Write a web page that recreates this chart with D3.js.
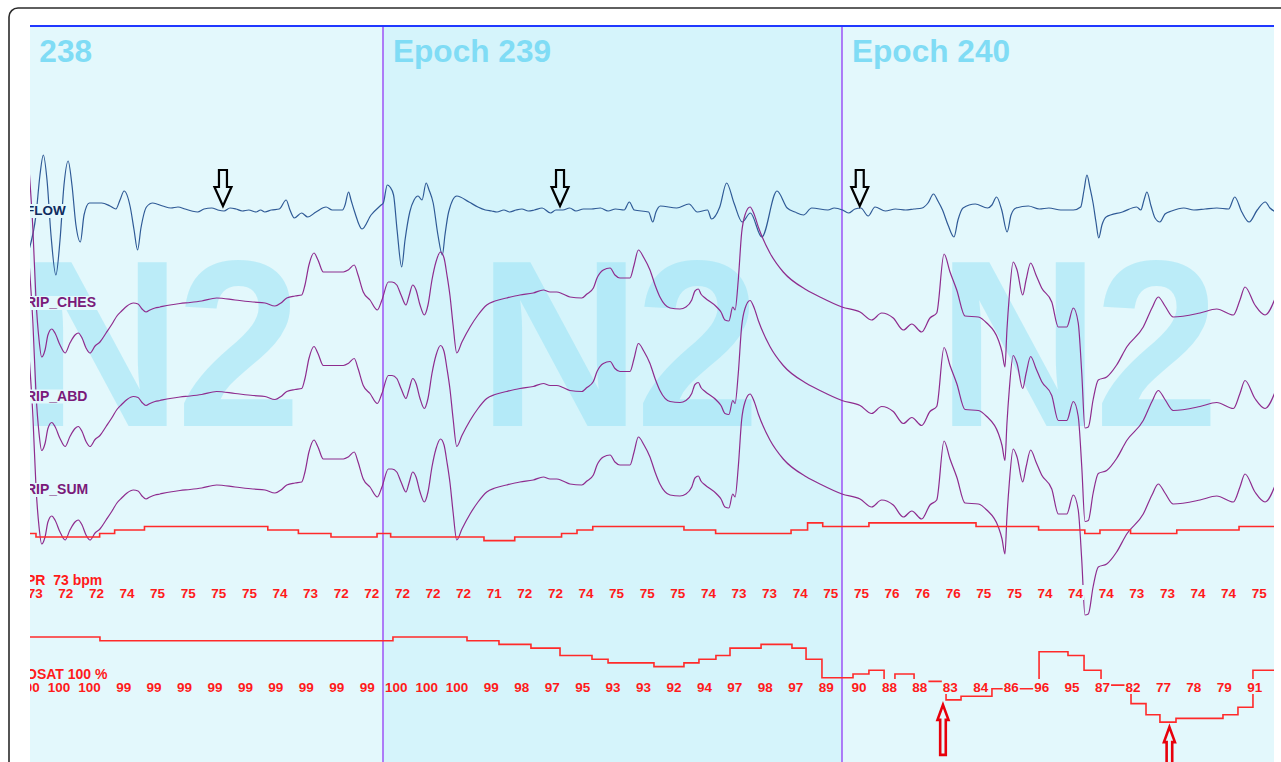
<!DOCTYPE html>
<html>
<head>
<meta charset="utf-8">
<script src="https://cdn.jsdelivr.net/npm/d3@7"></script>
<style>
  body { margin: 0; background: #fff; }
  svg { display: block; }
</style>
</head>
<body>
<svg id="chart" width="1281" height="762"></svg>
<script>
// time is in seconds from the start of epoch 238 (30 s epochs)
var epochs = [238, 239, 240];
var stages = ["N2", "N2", "N2"];
var currentEpoch = 239;

// airflow, arbitrary units (0 = baseline)
var flowPts = [
  [6.86,-41],[7.32,-6],[7.58,34],[7.80,54],[8.04,29],[8.30,-26],[8.62,-66],[8.89,-31],[9.15,24],[9.42,48],
  [9.67,24],[9.93,-16],[10.22,-33],[10.46,-6],[10.81,6],[11.61,6],[12.16,3],[12.54,0],[12.81,9],[13.08,18],
  [13.48,2],[13.73,-21],[13.96,-41],[14.18,-19],[14.54,2],[14.95,6],[15.60,3],[16.14,1],[16.60,2],[17.06,0],
  [17.50,-2],[17.88,-3],[18.30,0],[18.81,1],[19.20,-1],[19.61,-2],[20.00,1],[20.39,0],[20.80,-2],[21.22,-1],
  [21.70,-3],[22.00,-1],[22.28,-3],[22.70,-1],[23.22,0],[23.67,9],[23.92,-1],[24.20,-9],
  [24.68,-4],[25.08,-8],[25.62,-3],[26.28,2],[26.68,-1],[27.35,-1],[27.52,4],[27.75,17],[27.91,9],[28.15,-3],
  [28.63,-20],[29.22,-6],[29.88,4],[30.02,6],[30.28,24],[30.46,22],[30.69,14],[30.92,-21],[31.22,-58],[31.44,-31],
  [31.75,-3],[32.03,9],[32.29,13],[32.55,9],[32.82,26],[33.01,19],[33.28,6],[33.59,-26],[33.88,-46],[34.05,-26],
  [34.29,-3],[34.82,13],[35.62,7],[36.20,2],[36.69,-1],[37.10,-2],[37.45,-3],[37.90,-1],[38.29,-3],[38.70,-1],
  [39.08,0],[39.50,-2],[39.89,-1],[40.40,1],[40.95,-4],[41.30,-1],[41.76,-1],[42.20,1],
  [42.61,-2],[43.10,0],[43.62,0],[44.20,1],[44.71,-2],[45.20,0],[45.76,-1],[46.10,7],[46.42,-1],[47.36,-3],[47.63,-13],[47.84,-3],[48.13,3],
  [49.20,1],[50.00,5],[50.54,-3],[51.21,-1],[51.47,-10],[52.01,2],[52.46,26],[52.94,6],[53.48,-13],[54.01,-4],
  [54.76,-28],[55.75,18],[56.42,1],[56.93,-3],[57.48,-6],[58.02,1],[59.08,-1],[59.49,1],[60.03,-1],[60.42,-4],
  [60.85,0],[61.23,1],[61.71,-7],[62.16,2],[62.83,-2],[63.50,0],[64.16,-1],[64.70,0],[65.24,1],[65.62,6],[65.98,15],[66.27,8],
  [66.57,-1],[66.93,-16],[67.32,-28],[67.58,-11],[67.91,1],[68.71,5],[69.51,1],[69.80,4],[70.10,12],[70.44,-1],
  [70.79,-23],[71.05,-6],[71.38,1],[72.18,3],[72.90,0],[73.52,1],[74.30,-1],[75.12,-1],[75.60,2],[75.82,19],[76.01,34],[76.21,21],
  [76.41,6],[76.60,-13],[76.78,-29],[76.99,-16],[77.26,-8],[78.33,-3],[79.26,2],[79.53,-1],[79.74,9],[79.93,17],
  [80.20,3],[80.46,-9],[80.78,-13],[81.11,-5],[81.54,-2],[82.34,1],[83.00,-1],[83.73,0],[84.50,1],[85.27,0],[85.67,12],[86.13,-3],
  [86.61,-13],[87.14,-1],[87.67,7],[87.97,1],[88.37,-3]
];

// respiratory inductance bands, the three channels show the same excursion
var ripChannels = ["RIP_CHES", "RIP_ABD", "RIP_SUM"];
var ripPts = [
  [6.86,133],[7.12,71],[7.32,1],[7.52,-39],[7.69,-56],[7.91,-49],[8.10,-34],[8.35,-28],[8.56,-32],[8.89,-44],
  [9.22,-52],[9.54,-42],[9.87,-34],[10.08,-32],[10.33,-37],[10.59,-47],[10.85,-52],[11.18,-45],[11.50,-41],[11.90,-32],
  [12.29,-23],[12.61,-15],[12.92,-10],[13.27,-5],[13.68,-2],[13.99,-3],[14.25,-8],[14.51,-11],[14.77,-9],[15.10,-7],
  [15.42,-6],[16.08,-4],[16.73,-2.5],[17.39,-1.5],[18.15,0],[19.13,3],[20.33,1],[21.50,-1],[22.29,-2],[22.94,-5],
  [23.33,-2],[23.71,3],[24.25,5],[24.69,6],[24.90,16],[25.16,36],[25.49,48],[25.75,41],[26.10,29],[26.42,29],
  [27.41,29],[27.73,31],[28.12,36],[28.37,26],[28.71,9],[29.15,1],[29.63,-9],[29.93,1],[30.35,19],[30.59,19],
  [30.90,16],[31.18,6],[31.50,-4],[31.70,5],[31.94,16],[32.16,11],[32.42,-4],[32.70,-14],[32.94,-4],[33.20,21],
  [33.46,39],[33.76,49],[33.99,43],[34.18,26],[34.38,5],[34.58,-24],[34.82,-52],[35.16,-41],[35.69,-26],[36.21,-14],
  [36.78,-4],[37.32,0],[38.08,3],[38.95,6],[39.82,8],[40.48,11],[40.92,9],[41.35,9],[41.76,7],[42.22,4],
  [42.99,3],[43.33,7],[43.75,13],[43.99,23],[44.40,31],[44.84,33],[45.16,26],[45.49,23],[46.14,23],[46.41,36],
  [46.69,51],[47.06,43],[47.45,31],[47.78,16],[48.10,4],[48.76,-7],[49.41,-8],[49.80,-6],[50.18,1],[50.39,10],
  [50.61,12],[50.78,7],[51.05,3],[51.81,-6],[52.09,-11],[52.35,-19],[52.61,-20],[52.86,-6],[53.01,-9],[53.22,21],
  [53.44,68],[53.66,86],[53.99,94],[54.25,87],[54.53,74],[55.29,48],[56.16,29],[57.69,11],[58.56,4],[60.00,-6],
  [61.18,-11],[61.94,-19],[62.59,-12],[63.35,-17],[64.01,-29],[64.56,-23],[65.21,-31],[65.75,-17],[66.19,-12],[66.67,47],
  [67.06,29],[67.50,11],[68.04,-15],[68.91,-16],[69.46,-22],[70.22,-39],[70.46,-51],[70.65,-66],[70.78,-29],[70.93,4],
  [71.19,39],[71.44,31],[71.81,6],[72.03,21],[72.33,38],[72.68,26],[73.05,13],[73.71,-1],[74.14,-26],[74.69,-26],
  [75.12,-7],[75.44,-22],[75.67,-72],[75.88,-127],[76.10,-126],[76.41,-99],[76.75,-79],[77.30,-76],[77.95,-64],[78.61,-46],
  [79.69,-26],[80.26,-7],[80.67,4],[81.11,-5],[81.65,-16],[83.40,-12],[84.49,-8],[85.58,-14],[86.01,1],[86.34,14],
  [86.99,-4],[87.65,-14],[88.37,5]
];

// pulse rate trace (bpm), [start time, level]
var prSteps = [
  [6.86,73],[7.32,72],[11.48,73],[12.46,74],[14.41,75],[22.47,74],[24.47,73],[26.60,72],[29.61,73],[30.50,72],
  [36.60,71],[38.61,72],[41.67,73],[42.68,74],[43.71,75],[49.67,74],[51.74,73],[56.67,74],[57.75,76],[58.74,75],
  [61.76,76],[68.76,75],[72.85,74],[75.87,73],[76.86,74],[78.86,73],[81.88,74],[85.95,75],[88.40,75]
];

// oxygen saturation trace (%), [start time, level]
var satSteps = [
  [6.86,100],[11.50,99],[30.65,100],[35.49,99],[37.58,98],[39.67,97],[41.57,95],[43.66,94],[44.71,93],[47.71,92],
  [49.67,93],[50.65,94],[51.76,95],[52.68,97],[54.71,98],[56.73,97],[57.65,94],[58.69,89],[60.72,90],[61.76,91],
  [62.75,88],[63.46,90],[64.71,88],[66.80,83],[67.78,84],[69.80,86],[72.88,96],[74.77,95],[75.82,91],[76.93,87],
  [78.89,82],[79.87,79],[80.78,77],[81.83,78],[84.90,79],[85.88,81],[86.86,91],[88.40,91]
];

// 2 s readouts, starting at slot 3 of epoch 238
var firstSlot = 3;
var prNums = [73,72,72,74,75,75,75,75,74,73,72,72,
              72,72,72,71,72,72,74,75,75,75,74,73,73,74,75,
              75,76,76,76,75,75,74,74,74,73,73,74,74,75];
var satNums = [100,100,100,99,99,99,99,99,99,99,99,99,
               100,100,100,99,98,97,95,93,93,92,94,97,98,97,89,
               90,88,88,83,84,86,96,95,87,82,77,78,79,91];

var flowArrows = [19.54, 41.57, 61.16];
var desatArrows = [[66.6, 83], [81.4, 77]];

var W = 1281, H = 762;
var plot = { left: 30, right: 1274, top: 26, bottom: 762 };
var bgLight = "#e3f8fc", bgDark = "#d5f4fb";
var font = "Liberation Sans, Arial, sans-serif";

var x = d3.scaleLinear().domain([30, 60]).range([383, 842]);
var flowY = d3.scaleLinear().domain([-70, 70]).range([279, 139]);
var ripBase = [301, 394.5, 488];
var prY = d3.scaleLinear().domain([71, 76]).range([540.6, 522.9]);
var satY = d3.scaleLinear().domain([77, 100]).range([722.1, 637]);

function bgAt(t) {
  var i = Math.floor(t / 30);
  return epochs[i] == currentEpoch ? bgDark : bgLight;
}

var svg = d3.select("#chart");
svg.append("rect").attr("width", W).attr("height", H).attr("fill", "#fff");
svg.append("rect")
  .attr("x", 9).attr("y", 8).attr("width", 1320).attr("height", 820).attr("rx", 9)
  .attr("fill", "none").attr("stroke", "#2b2b2b").attr("stroke-width", 1.6);

svg.append("clipPath").attr("id", "plotClip").append("rect")
  .attr("x", plot.left).attr("y", plot.top)
  .attr("width", plot.right - plot.left).attr("height", plot.bottom - plot.top);

var g = svg.append("g").attr("clip-path", "url(#plotClip)");

// 1. epoch backgrounds, stage watermark, epoch title
epochs.forEach(function(ep, i) {
  var t0 = i * 30;
  g.append("rect")
    .attr("x", x(t0)).attr("y", plot.top)
    .attr("width", x(t0 + 30) - x(t0)).attr("height", plot.bottom - plot.top)
    .attr("fill", ep == currentEpoch ? bgDark : bgLight);

  g.append("text")
    .attr("transform", "translate(" + (x(t0 + 15) + 4) + ",426) scale(0.95,1)")
    .attr("text-anchor", "middle")
    .attr("font-family", font)
    .attr("font-weight", "bold")
    .attr("font-size", 237)
    .attr("letter-spacing", -6)
    .attr("fill", "#8fdff5").attr("fill-opacity", 0.47)
    .text(stages[i]);

  g.append("text")
    .attr("x", x(t0) + 10).attr("y", 62)
    .attr("font-family", font)
    .attr("font-weight", "bold")
    .attr("font-size", 31.6)
    .attr("fill", "#80dcf5")
    .text("Epoch " + ep);
});

// 2. epoch boundaries
[30, 60].forEach(function(t) {
  g.append("line")
    .attr("x1", x(t)).attr("x2", x(t)).attr("y1", plot.top).attr("y2", plot.bottom)
    .attr("stroke", "#a05cf6").attr("stroke-width", 1.6);
});

// 3. waveforms
var flowLine = d3.line().x(function(d) { return x(d[0]); }).y(function(d) { return flowY(d[1]); })
  .curve(d3.curveMonotoneX);
g.append("path").datum(flowPts).attr("d", flowLine)
  .attr("fill", "none").attr("stroke", "#2f5a96").attr("stroke-width", 1.2);

ripChannels.forEach(function(name, i) {
  var ry = d3.scaleLinear().domain([-130, 130]).range([ripBase[i] + 130, ripBase[i] - 130]);
  var ripLine = d3.line().x(function(d) { return x(d[0]); }).y(function(d) { return ry(d[1]); })
    .curve(d3.curveMonotoneX);
  g.append("path").datum(ripPts).attr("d", ripLine)
    .attr("fill", "none").attr("stroke", "#8e2c8e").attr("stroke-width", 1.2);
});

// 4. pulse and saturation step traces
var prLine = d3.line().x(function(d) { return x(d[0]); }).y(function(d) { return prY(d[1]); })
  .curve(d3.curveStepAfter);
g.append("path").datum(prSteps).attr("d", prLine)
  .attr("fill", "none").attr("stroke", "#ff2a2a").attr("stroke-width", 1.6);

var satLine = d3.line().x(function(d) { return x(d[0]); }).y(function(d) { return satY(d[1]); })
  .curve(d3.curveStepAfter);
g.append("path").datum(satSteps).attr("d", satLine)
  .attr("fill", "none").attr("stroke", "#ff2a2a").attr("stroke-width", 1.6);

// 5. numeric readouts (opaque boxes hide the traces behind them)
function numberRow(values, baseline, offset, step) {
  values.forEach(function(v, j) {
    var n = firstSlot + j;
    var t = Math.floor(n / 15) * 30 + offset + step * (n % 15);
    var xr = x(t);
    var w = String(v).length * 7.5;
    g.append("rect")
      .attr("x", xr - w - 1).attr("y", baseline - 13)
      .attr("width", w + 2).attr("height", 15)
      .attr("fill", bgAt(t));
    g.append("text")
      .attr("x", xr).attr("y", baseline)
      .attr("text-anchor", "end")
      .attr("font-family", font)
      .attr("font-weight", "bold").attr("font-size", 13.5)
      .attr("fill", "#ff1a1a")
      .text(v);
  });
}
numberRow(prNums, 598, 1.76, 2);
numberRow(satNums, 692, 1.6, 1.99);

// 6. channel labels
function channelLabel(txt, baseline, color, size) {
  var t = g.append("text")
    .attr("x", 26).attr("y", baseline)
    .attr("font-family", font)
    .attr("font-weight", "bold").attr("font-size", size)
    .attr("fill", color)
    .text(txt);
  var bb = t.node().getBBox();
  g.insert("rect", function() { return t.node(); })
    .attr("x", bb.x - 1).attr("y", baseline - 11)
    .attr("width", bb.width + 2).attr("height", 14)
    .attr("fill", bgLight);
}
channelLabel("FLOW", 215, "#0e2b5e", 13.5);
ripChannels.forEach(function(name, i) {
  channelLabel(name, ripBase[i] + 6, "#7a1a7a", 14);
});
channelLabel("PR\u00a0\u00a073 bpm", 585, "#ff1a1a", 14);
channelLabel("OSAT 100 %", 679, "#ff1a1a", 14);

// 7. event arrows
flowArrows.forEach(function(t) {
  var cx = x(t), tip = flowY(3);
  var p = d3.path();
  p.moveTo(cx - 4, tip - 36); p.lineTo(cx + 4, tip - 36); p.lineTo(cx + 4, tip - 19);
  p.lineTo(cx + 8.5, tip - 19); p.lineTo(cx, tip); p.lineTo(cx - 8.5, tip - 19);
  p.lineTo(cx - 4, tip - 19); p.closePath();
  g.append("path").attr("d", p.toString())
    .attr("fill", "none").attr("stroke", "#000").attr("stroke-width", 2.2);
});

desatArrows.forEach(function(a) {
  var cx = x(a[0]), tip = satY(a[1]) + 5;
  var p = d3.path();
  p.moveTo(cx, tip); p.lineTo(cx + 5.5, tip + 15); p.lineTo(cx + 2.8, tip + 15);
  p.lineTo(cx + 2.8, tip + 50); p.lineTo(cx - 2.8, tip + 50); p.lineTo(cx - 2.8, tip + 15);
  p.lineTo(cx - 5.5, tip + 15); p.closePath();
  g.append("path").attr("d", p.toString())
    .attr("fill", "none").attr("stroke", "#e8000b").attr("stroke-width", 2.6);
});

// top border of the trace window
svg.append("line")
  .attr("x1", plot.left).attr("x2", plot.right).attr("y1", plot.top).attr("y2", plot.top)
  .attr("stroke", "#2038ff").attr("stroke-width", 2);
</script>
</body>
</html>
